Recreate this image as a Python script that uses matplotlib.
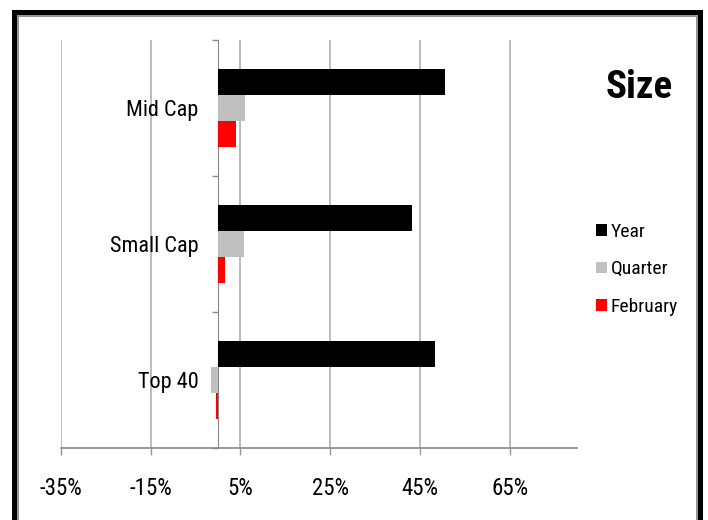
import matplotlib.pyplot as plt
import matplotlib.patches as mpatches
import numpy as np

# Returns by market-cap bucket (percent)
categories = ['Top 40', 'Small Cap', 'Mid Cap']
year = [48.4, 43.2, 50.5]
quarter = [-1.5, 5.8, 6.0]
february = [-0.4, 1.5, 3.9]
series_names = ['Year', 'Quarter', 'February']
xticks = [-35, -15, 5, 25, 45, 65]
xtick_labels = ['-35%', '-15%', '5%', '25%', '45%', '65%']

W, H = 708, 520
plt.rcParams['font.family'] = ['Roboto Condensed', 'Liberation Sans', 'DejaVu Sans']

fig = plt.figure(figsize=(W / 100, H / 100), dpi=100)
ax = fig.add_axes([61 / W, 1 - 448 / H, (577 - 61) / W, (448 - 40) / H])

y = np.arange(len(categories))
h = 0.19
ax.barh(y + h, year, height=h, color='black', label=series_names[0], zorder=5)
ax.barh(y, quarter, height=h, color='#c0c0c0', label=series_names[1], zorder=5)
ax.barh(y - h, february, height=h, color='#ff0000', label=series_names[2], zorder=5)

ax.set_xlim(-35, 80)
ax.set_ylim(-0.5, 2.5)

# vertical gridlines
for t in xticks:
    ax.axvline(t, color='#b0b0b0', lw=1.2, zorder=1)

for s in ['top', 'right']:
    ax.spines[s].set_visible(False)
ax.spines['left'].set_position(('data', 0))
ax.spines['left'].set_color('#888888')
ax.spines['left'].set_zorder(2)
ax.spines['bottom'].set_color('#888888')
ax.spines['bottom'].set_linewidth(1.2)

ax.set_xticks(xticks)
ax.set_xticklabels(xtick_labels, fontsize=16.5)
ax.tick_params(axis='x', direction='out', length=5, width=1, color='#999999', pad=16)

ax.set_yticks(y)
ax.set_yticklabels(categories, fontsize=16)
ax.tick_params(axis='y', which='major', length=0, pad=14)
ax.set_yticks([-0.5, 0.5, 1.5, 2.5], minor=True)
ax.tick_params(axis='y', which='minor', direction='out', length=4.5, width=1, color='#888888')

fig.text(639 / W, 1 - 87 / H, 'Size', ha='center', va='center',
         fontsize=28, fontweight='bold')

handles, labels = ax.get_legend_handles_labels()
fig.legend(handles, labels, loc='upper left', bbox_to_anchor=(596 / W, 1 - 223 / H),
           frameon=False, fontsize=14, handlelength=0.55, handleheight=0.55,
           handletextpad=0.2, labelspacing=1.0, borderaxespad=0, borderpad=0)

# frame around the whole chart
fig.patches.append(mpatches.Rectangle((17.5 / W, -0.1), (697 - 17.5) / W, 1.1 - 16 / H,
                                      transform=fig.transFigure, fill=False,
                                      edgecolor='#808080', lw=1.2))
fig.patches.append(mpatches.Rectangle((14.5 / W, -0.1), (699.5 - 14.5) / W, 1.1 - 12.5 / H,
                                      transform=fig.transFigure, fill=False,
                                      edgecolor='black', lw=3.6))

fig.savefig('out.png', dpi=100)
